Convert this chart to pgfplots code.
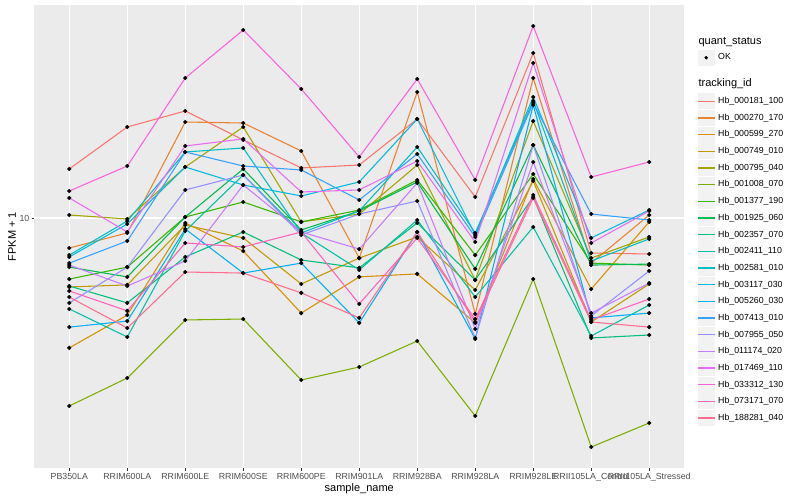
\documentclass[border=0pt]{standalone}
\usepackage{fontspec}
\setmainfont{Liberation Sans}
\usepackage{pgfplots}
\usepackage{pgfplotstable}
\pgfplotsset{compat=1.18}

\definecolor{panelgray}{HTML}{EBEBEB}
\definecolor{keygray}{HTML}{F2F2F2}
\definecolor{gray30}{HTML}{4D4D4D}
\definecolor{gray20}{HTML}{333333}
\definecolor{c1}{HTML}{F8766D}
\definecolor{c2}{HTML}{EA8331}
\definecolor{c3}{HTML}{D89000}
\definecolor{c4}{HTML}{C09B00}
\definecolor{c5}{HTML}{A3A500}
\definecolor{c6}{HTML}{7CAE00}
\definecolor{c7}{HTML}{39B600}
\definecolor{c8}{HTML}{00BB4E}
\definecolor{c9}{HTML}{00BF7D}
\definecolor{c10}{HTML}{00C1A3}
\definecolor{c11}{HTML}{00BFC4}
\definecolor{c12}{HTML}{00BAE0}
\definecolor{c13}{HTML}{00B0F6}
\definecolor{c14}{HTML}{35A2FF}
\definecolor{c15}{HTML}{9590FF}
\definecolor{c16}{HTML}{C77CFF}
\definecolor{c17}{HTML}{E76BF3}
\definecolor{c18}{HTML}{FA62DB}
\definecolor{c19}{HTML}{FF62BC}
\definecolor{c20}{HTML}{FF6C91}

% FPKM + 1, one row per sample, one column per gene
\pgfplotstableread{
x  s1    s2    s3    s4    s5    s6    s7    s8    s9    s10   s11   s12   s13   s14   s15   s16   s17   s18   s19   s20
0  14.08 8.11  4.04  6.18  10.21 2.694 6.53  7.10  6.22  5.30  7.72  7.62  4.67  7.30  5.53  7.20  11.50 12.07 6.01  5.76
1  18.87 9.01  5.08  6.27  9.93  3.274 7.10  6.63  5.53  4.36  9.79  9.59  4.87  8.52  7.10  6.22  9.07  14.37 5.23  4.64
2  21.10 19.54 9.66  9.52  14.27 4.908 10.07 10.07 7.62  9.13  15.85 14.27 9.26  15.85 12.16 7.41  16.53 26.56 8.40  6.86
3  17.24 19.40 7.94  8.70  18.87 4.942 11.18 14.08 9.07  13.50 16.30 12.59 6.81  14.37 13.50 12.59 17.36 37.13 8.17  6.81
4  14.18 15.96 5.15  6.31  9.73  3.229 9.73  9.20  7.46  9.01  9.01  11.66 7.30  13.98 8.88  9.07  11.99 24.60 9.07  5.93
5  14.47 7.56  6.63  7.56  10.28 3.536 10.57 10.50 7.06  6.96  10.50 12.86 4.81  11.34 10.28 8.05  12.16 15.31 5.49  4.98
6  19.95 24.09 6.77  8.76  14.47 4.239 13.04 12.86 9.66  9.86  16.41 19.95 9.07  15.63 11.26 12.77 14.88 26.38 8.70  9.07
7  11.58 5.12  4.81  6.05  6.49  2.512 7.72  7.01  6.49  5.76  9.01  8.88  4.30  8.76  4.33  4.61  8.46  13.04 4.94  4.84
8  31.62 26.56 13.13 12.95 19.67 6.534 13.59 16.64 11.58 9.39  22.62 23.26 22.00 22.31 16.64 14.78 29.49 38.18 11.74 11.50
9  7.83  7.30  6.09  4.84  7.56  2.023 7.30  7.20  4.33  4.39  7.41  8.70  4.98  10.28 5.05  5.15  8.40  13.31 4.91  4.84
10 7.78  10.21 9.73  6.31  8.76  2.392 7.20  7.25  4.42  5.45  8.64  10.57 5.15  9.86  6.91  6.35  10.50 14.78 5.68  4.67
}\fpkm

\pgfplotsset{
  keyline/.style={line width=1.07bp,
    legend image code/.code={
      \path[draw=none, fill=none] (0bp,-8.2bp) rectangle (16.6bp,8.2bp);
      \fill[keygray, draw=none] (0bp,-8bp) rectangle (16.6bp,8bp);
      \draw[##1, line width=1.4bp] (0bp,0bp) -- (16.6bp,0bp);}},
}

\begin{document}
\begin{tikzpicture}
\useasboundingbox (-34.5bp,-32bp) rectangle (765.5bp,468bp);
\begin{axis}[
  scale only axis, width=649.5bp, height=463bp,
  xmin=-0.6, xmax=10.6,
  ymode=log, ymin=1.7475, ymax=44.2,
  axis background/.style={fill=panelgray},
  axis line style={draw=none},
  xtick={0,...,10},
  xticklabels={PB350LA,RRIM600LA,RRIM600LE,RRIM600SE,RRIM600PE,RRIM901LA,RRIM928BA,RRIM928LA,RRIM928LE,RRII105LA\_Control,RRII105LA\_Stressed},
  ytick={10}, yticklabels={10}, yminorticks=false,
  xtick pos=bottom, ytick pos=left,
  grid=major, major grid style={white, line width=1.07bp},
  tick align=outside, major tick length=2.75bp,
  tick style={gray20, line width=0.8bp},
  xticklabel style={font=\fontsize{8.8bp}{10bp}\selectfont, text=gray30, inner sep=0pt, yshift=-2.2bp},
  yticklabel style={font=\fontsize{8.8bp}{10bp}\selectfont, text=gray30, inner sep=0pt, xshift=-2.2bp},
  xlabel={sample\_name}, ylabel={FPKM + 1},
  label style={font=\fontsize{11bp}{13bp}\selectfont},
  xlabel style={at={(axis description cs:0.5,-0.044)}, anchor=center, inner sep=0pt},
  ylabel style={at={(axis description cs:-0.0346,0.5)}, anchor=center, inner sep=0pt},
  legend cell align=left,
  legend style={at={(rel axis cs:1,1)}, anchor=north west, xshift=13bp, yshift=-31.5bp,
    draw=none, fill=none, inner sep=0pt, row sep=0.27bp, column sep=3bp,
    nodes={inner sep=0pt, font=\fontsize{8.8bp}{10bp}\selectfont}},
]
\addlegendimage{legend image code/.code={\path[draw=none, fill=none] (0bp,-7.5bp) rectangle (0bp,5bp);}}
\addlegendentry[font=\fontsize{11bp}{13bp}\selectfont]{\hspace*{-19.6bp}quant\_status}
\addlegendimage{legend image code/.code={
  \path[draw=none, fill=none] (0bp,-8.2bp) rectangle (16.6bp,8.2bp);
  \fill[keygray, draw=none] (0bp,-8bp) rectangle (16.6bp,8bp);
  \fill[black, draw=none] (8.3bp,0bp) circle (1.9bp);}}
\addlegendentry{OK}
\addlegendimage{legend image code/.code={\path[draw=none, fill=none] (0bp,-9.6bp) rectangle (0bp,17bp);}}
\addlegendentry[font=\fontsize{11bp}{13bp}\selectfont]{\hspace*{-19.6bp}tracking\_id}

\addplot[keyline, c1]  table[x=x, y=s1]  {\fpkm}; \addlegendentry{Hb\_000181\_100}
\addplot[keyline, c2]  table[x=x, y=s2]  {\fpkm}; \addlegendentry{Hb\_000270\_170}
\addplot[keyline, c3]  table[x=x, y=s3]  {\fpkm}; \addlegendentry{Hb\_000599\_270}
\addplot[keyline, c4]  table[x=x, y=s4]  {\fpkm}; \addlegendentry{Hb\_000749\_010}
\addplot[keyline, c5]  table[x=x, y=s5]  {\fpkm}; \addlegendentry{Hb\_000795\_040}
\addplot[keyline, c6]  table[x=x, y=s6]  {\fpkm}; \addlegendentry{Hb\_001008\_070}
\addplot[keyline, c7]  table[x=x, y=s7]  {\fpkm}; \addlegendentry{Hb\_001377\_190}
\addplot[keyline, c8]  table[x=x, y=s8]  {\fpkm}; \addlegendentry{Hb\_001925\_060}
\addplot[keyline, c9]  table[x=x, y=s9]  {\fpkm}; \addlegendentry{Hb\_002357\_070}
\addplot[keyline, c10] table[x=x, y=s10] {\fpkm}; \addlegendentry{Hb\_002411\_110}
\addplot[keyline, c11] table[x=x, y=s11] {\fpkm}; \addlegendentry{Hb\_002581\_010}
\addplot[keyline, c12] table[x=x, y=s12] {\fpkm}; \addlegendentry{Hb\_003117\_030}
\addplot[keyline, c13] table[x=x, y=s13] {\fpkm}; \addlegendentry{Hb\_005260\_030}
\addplot[keyline, c14] table[x=x, y=s14] {\fpkm}; \addlegendentry{Hb\_007413\_010}
\addplot[keyline, c15] table[x=x, y=s15] {\fpkm}; \addlegendentry{Hb\_007955\_050}
\addplot[keyline, c16] table[x=x, y=s16] {\fpkm}; \addlegendentry{Hb\_011174\_020}
\addplot[keyline, c17] table[x=x, y=s17] {\fpkm}; \addlegendentry{Hb\_017469\_110}
\addplot[keyline, c18] table[x=x, y=s18] {\fpkm}; \addlegendentry{Hb\_033312\_130}
\addplot[keyline, c19] table[x=x, y=s19] {\fpkm}; \addlegendentry{Hb\_073171\_070}
\addplot[keyline, c20] table[x=x, y=s20] {\fpkm}; \addlegendentry{Hb\_188281\_040}

% points on top of every line
\pgfplotsinvokeforeach{1,...,20}{
  \addplot[only marks, mark=*, mark size=1.9bp, black, forget plot] table[x=x, y=s#1] {\fpkm};
}
\end{axis}
\end{tikzpicture}
\end{document}
